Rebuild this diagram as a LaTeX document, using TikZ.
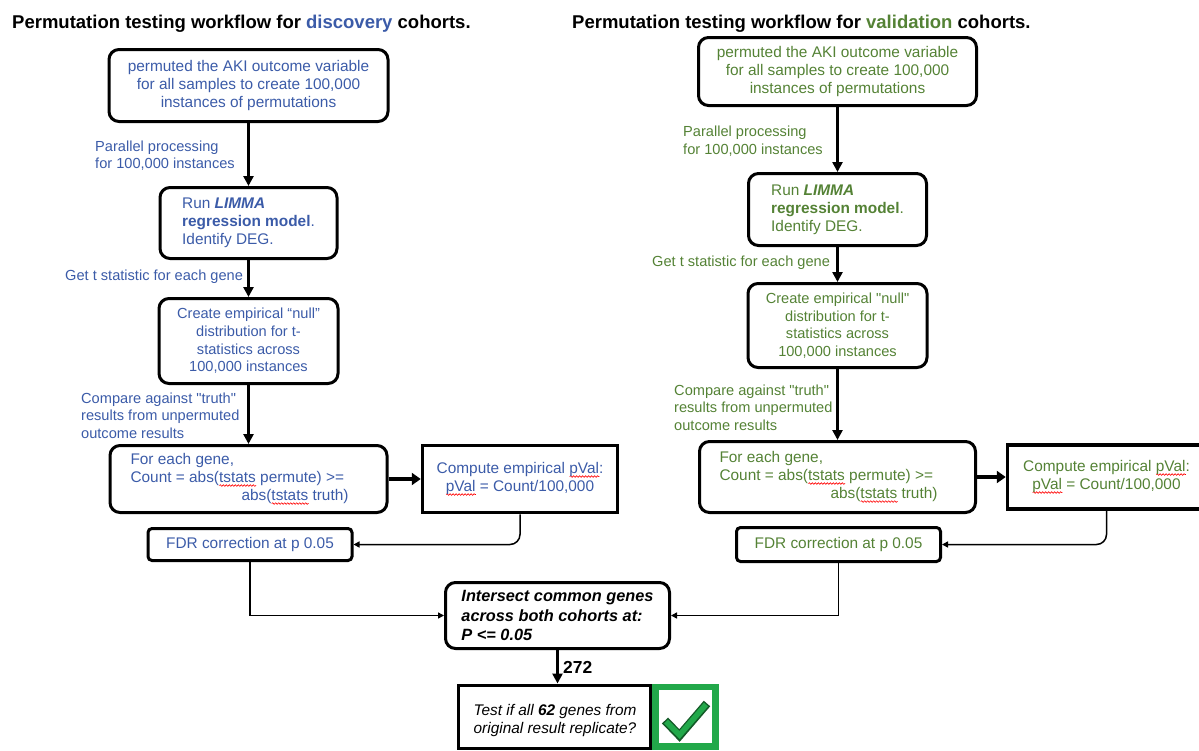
\documentclass[tikz,border=0pt]{standalone}
\usepackage{fontspec}
\setmainfont{Liberation Sans}[Ligatures=TeXOff]
\usetikzlibrary{arrows.meta,decorations.pathmorphing}
\definecolor{dblue}{RGB}{59,91,168}
\definecolor{dgreen}{RGB}{84,130,53}
\definecolor{cgreen}{RGB}{34,168,74}
\definecolor{cdark}{RGB}{20,90,40}
\newcommand\fbody{\fontsize{15.4}{18}\selectfont}
\newcommand\fsmall{\fontsize{14.6}{17.6}\selectfont}
\newcommand\ftitl{\fontsize{18.5}{22}\selectfont\bfseries}
\newsavebox\rwbox
\newlength\rwlen
\newcommand\redwave[1]{\leavevmode\sbox\rwbox{#1}\setlength\rwlen{\wd\rwbox}\rlap{\tikz[baseline=0pt]\draw[sharp corners, red, line width=0.6pt, decorate, decoration={snake, amplitude=0.8pt, segment length=3pt}] (0pt,-3pt) -- (\rwlen,-3pt);}\usebox\rwbox}
\begin{document}
\begin{tikzpicture}[x=1pt,y=-1pt,
  rbox/.style={draw, line width=3pt, rounded corners=10pt, inner sep=0pt, align=center, font=\fbody},
  sbox/.style={draw, line width=3.5pt, inner sep=0pt, align=center, font=\fbody},
  lbl/.style={anchor=west, align=left, inner sep=0pt, font=\fsmall},
  ttl/.style={anchor=base west, inner sep=0pt, font=\ftitl},
  arr/.style={-{Triangle[length=10pt,width=10pt]}, line width=2.8pt},
  fatarr/.style={-{Triangle[length=9pt,width=12pt]}, line width=4pt},
  thinarr/.style={-{Triangle[length=6pt,width=6pt]}, line width=1.5pt}]
\useasboundingbox (0,0) rectangle (1199,750);

% titles
\node[ttl] (tl) at (12,28) {Permutation testing workflow for \textcolor{dblue}{discovery} cohorts.};
\node[ttl] (tr) at (572,28) {Permutation testing workflow for \textcolor{dgreen}{validation} cohorts.};

% ---------- discovery column ----------
\node[rbox, text=dblue, minimum width=279pt, minimum height=72pt] (a1) at (248.5,85.5)
  {permuted the AKI outcome variable\\for all samples to create 100,000\\instances of permutations};
\node[rbox, text=dblue, align=left, minimum width=177pt, minimum height=71pt] (a2) at (248.5,223)
  {Run \textbf{\textit{LIMMA}}\\\textbf{regression model}.\\Identify DEG.};
\node[rbox, text=dblue, font=\fsmall, minimum width=179pt, minimum height=85pt] (a3) at (248.5,341)
  {Create empirical “null”\\distribution for t-\\statistics across\\100,000 instances};
\node[rbox, text=dblue, align=left, minimum width=277pt, minimum height=67pt] (a4) at (248.5,479)
  {For each gene,\\Count = abs(\redwave{tstats} permute) >=\\\hspace*{111pt}abs(\redwave{tstats} truth)\hspace*{18pt}};
\node[sbox, text=dblue, minimum width=195pt, minimum height=67pt] (a5) at (520,479)
  {Compute empirical \redwave{pVal}:\\\redwave{pVal} = Count/100,000};
\node[rbox, rounded corners=4pt, text=dblue, minimum width=204pt, minimum height=32pt] (a6) at (250,544.5)
  {FDR correction at p 0.05};

\node[lbl, text=dblue] (l1) at (95,155.5) {Parallel processing\\for 100,000 instances};
\node[lbl, text=dblue] (l2) at (65,277) {Get t statistic for each gene};
\node[lbl, text=dblue] (l3) at (81,415.5) {Compare against "truth"\\results from unpermuted\\outcome results};

\draw[arr] (a1) -- (a2);
\draw[arr] (a2) -- (a3);
\draw[arr] (a3) -- (a4);
\draw[fatarr] (a4) -- (a5);
\draw[thinarr, rounded corners=10pt] (a5.south) |- (a6.east);

% ---------- validation column ----------
\node[rbox, text=dgreen, minimum width=278pt, minimum height=68pt] (b1) at (837.5,71.5)
  {permuted the AKI outcome variable\\for all samples to create 100,000\\instances of permutations};
\node[rbox, text=dgreen, align=left, minimum width=178pt, minimum height=72pt] (b2) at (837.5,209.5)
  {Run \textbf{\textit{LIMMA}}\\\textbf{regression model}.\\Identify DEG.};
\node[rbox, text=dgreen, font=\fsmall, minimum width=179pt, minimum height=84pt] (b3) at (837.5,325.5)
  {Create empirical "null"\\distribution for t-\\statistics across\\100,000 instances};
\node[rbox, text=dgreen, align=left, minimum width=276pt, minimum height=71pt] (b4) at (837.5,477)
  {For each gene,\\Count = abs(\redwave{tstats} permute) >=\\\hspace*{111pt}abs(\redwave{tstats} truth)\hspace*{18pt}};
\node[sbox, text=dgreen, minimum width=198pt, minimum height=64pt] (b5) at (1106.5,477)
  {Compute empirical \redwave{pVal}:\\\redwave{pVal} = Count/100,000};
\node[rbox, rounded corners=4pt, text=dgreen, minimum width=204pt, minimum height=34pt] (b6) at (838.5,544.5)
  {FDR correction at p 0.05};

\node[lbl, text=dgreen] (m1) at (683,141) {Parallel processing\\for 100,000 instances};
\node[lbl, text=dgreen] (m2) at (652,263) {Get t statistic for each gene};
\node[lbl, text=dgreen] (m3) at (674,407.5) {Compare against "truth"\\results from unpermuted\\outcome results};

\draw[arr] (b1) -- (b2);
\draw[arr] (b2) -- (b3);
\draw[arr] (b3) -- (b4);
\draw[fatarr] (b4) -- (b5);
\draw[thinarr, rounded corners=10pt] (b5.south) |- (b6.east);

% ---------- merge ----------
\node[rbox, align=left, font=\fontsize{16.3}{19.5}\selectfont\bfseries\itshape, minimum width=224pt, minimum height=66pt] (int) at (557.5,615.5)
  {Intersect common genes\\across both cohorts at:\\P <= 0.05};
\draw[thinarr] (a6.south) |- (int.west);
\draw[thinarr] (b6.south) |- (int.east);

\node[draw, line width=3pt, inner sep=0pt, minimum width=192pt, minimum height=63.5pt] (test) at (554.5,716.75) {};
\node[inner sep=0pt, align=center, font=\fbody\itshape] (testtxt) at (555,721)
  {Test if all \textbf{62} genes from\\original result replicate?};
\draw[arr] (int.south) -- (int.south |- test.north);
\node[anchor=west, inner sep=0pt, font=\fontsize{17.4}{20}\selectfont\bfseries] (n272) at (563,667) {272};

\node[draw=cgreen, line width=6.5pt, fill=white, inner sep=0pt, minimum width=60pt, minimum height=59.5pt] (chk) at (685.5,716.5) {};
\draw[cdark, line width=8.5pt] ([shift={(-20.5,4)}]chk.center) -- ([shift={(-6,19)}]chk.center) -- ([shift={(21.5,-13)}]chk.center);
\draw[cgreen, line width=5.5pt] ([shift={(-19.5,5)}]chk.center) -- ([shift={(-6,18.5)}]chk.center) -- ([shift={(20.5,-12)}]chk.center);
\end{tikzpicture}
\end{document}
